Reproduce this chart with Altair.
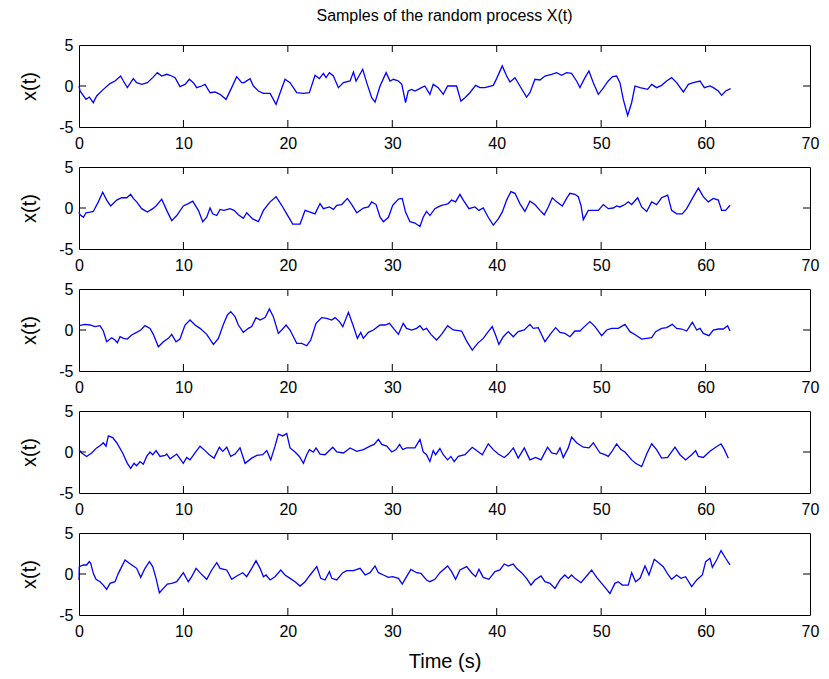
import altair as alt
import pandas as pd

FONT = "Liberation Sans"

title_text = "Samples of the random process X(t)"
x_title = "Time (s)"
y_title = "x(t)"
x_tick_labels = [0, 10, 20, 30, 40, 50, 60, 70]
y_tick_labels = [-5, 0, 5]
x_inner_ticks = [10, 20, 30, 40, 50, 60]
y_inner_ticks = [0]

# (time, value) samples
sample1 = [(0,0),(0.1,-0.6),(0.67,-1.63),(0.99,-1.35),(1.37,-2.04),(1.69,-1.22),(2.33,-0.41),(2.97,0.29),(3.45,0.61),(3.99,1.22),(4.25,0.61),(4.63,-0.2),(5.2,0.9),(5.52,0.41),(6.0,0.2),(6.55,0.41),(7.06,1.02),(7.5,1.63),(7.92,1.22),(8.4,1.43),(8.72,1.31),(9.2,1.02),(9.67,-0.08),(10.15,0.2),(10.57,0.82),(10.95,0.41),(11.27,-0.2),(11.75,0),(12.07,0.2),(12.55,-0.82),(13.03,-0.73),(13.5,-1.02),(14.08,-1.63),(14.62,-0.2),(15.1,1.14),(15.58,0.41),(15.8,0.41),(16.38,0.9),(16.7,0),(17.18,-0.61),(17.66,-0.9),(18.3,-0.9),(18.87,-2.24),(19.32,-0.61),(19.73,0.82),(20.21,0.41),(20.85,-0.82),(21.49,-0.9),(22.06,-0.82),(22.6,1.31),(23.02,0.9),(23.4,1.55),(23.66,1.02),(23.98,1.63),(24.36,1.22),(24.84,-0.2),(25.32,0.41),(25.96,0.61),(26.28,1.71),(26.53,0.61),(27.17,2.04),(27.55,0.41),(28.03,-1.43),(28.35,-1.96),(28.83,0),(29.41,1.63),(29.79,0.61),(30.11,0.82),(30.59,0.61),(30.91,0.2),(31.27,-2.04),(31.53,-0.61),(31.85,-0.41),(32.17,-0.61),(32.8,-0.2),(33.12,0),(33.6,-1.02),(33.92,0.2),(34.4,-0.2),(34.88,-1.02),(35.3,0),(36.16,0),(36.57,-1.84),(36.96,-1.43),(37.43,-0.82),(37.98,0.08),(38.39,-0.2),(38.87,-0.2),(39.67,0.08),(39.99,0.9),(40.53,2.45),(40.95,1.22),(41.27,0.49),(41.75,1.02),(42.22,0),(42.86,-1.35),(43.18,-0.82),(43.66,0.82),(44.14,0.73),(44.62,1.22),(45.26,1.43),(45.74,1.63),(46.21,1.31),(46.69,1.63),(47.17,1.55),(47.65,0.61),(47.97,-0.2),(48.45,1.02),(48.83,1.84),(49.25,0.41),(49.73,-1.02),(50.11,-0.41),(50.68,0.61),(51.1,1.14),(51.48,1.22),(51.8,0.41),(52.12,-1.63),(52.54,-3.59),(52.92,-2.04),(53.24,0),(53.72,-0.2),(54.45,-0.41),(54.84,0.2),(55.31,-0.2),(55.79,0.08),(56.27,0.61),(56.75,1.02),(57.23,0.41),(57.87,-0.73),(58.35,0.2),(58.83,0.41),(59.47,0.61),(59.88,-0.2),(60.42,0),(60.74,-0.2),(61.22,-0.61),(61.54,-1.14),(61.92,-0.61),(62.4,-0.33)]

sample2 = [(0,-0.5),(0.1,-0.83),(0.42,-1.13),(0.67,-0.58),(1.05,-0.5),(1.37,-0.42),(1.85,0.75),(2.27,1.92),(2.65,0.96),(3.03,0.25),(3.61,0.96),(4.09,1.25),(4.57,1.25),(4.95,1.67),(5.2,1.17),(5.52,0.75),(6.0,-0.08),(6.55,-0.5),(7.06,-0.08),(7.38,0.25),(7.92,1.08),(8.4,-0.29),(8.88,-1.54),(9.36,-0.92),(9.99,0.25),(10.47,0.54),(10.89,0.83),(11.43,-0.29),(11.85,-1.67),(12.23,-1.13),(12.55,0),(12.8,-0.71),(13.19,-0.92),(13.51,-0.17),(13.89,-0.29),(14.46,-0.08),(14.85,-0.29),(15.26,-0.83),(15.74,-1.25),(16.06,-0.58),(16.63,-1.33),(17.18,-1.67),(17.66,-0.29),(18.3,0.75),(18.87,1.38),(19.41,0.33),(19.89,-0.71),(20.47,-1.96),(21.17,-1.96),(21.65,-0.29),(22.13,-0.5),(22.6,-0.71),(23.08,0.54),(23.4,-0.08),(23.98,0.13),(24.36,-0.17),(24.68,0.33),(25.16,0.42),(25.7,1.17),(26.12,0.42),(26.6,-0.58),(27.24,0),(27.72,0.13),(28.03,0.75),(28.45,0.42),(28.83,-1.13),(29.15,-1.67),(29.63,-1.13),(30.04,0.33),(30.59,1.08),(30.95,1.17),(31.27,-0.5),(31.69,-1.67),(32.17,-1.83),(32.65,-2.25),(32.96,-1.13),(33.28,-0.42),(33.6,-0.92),(34.08,-0.08),(34.4,0.13),(34.72,0.33),(35.04,0.42),(35.36,0.54),(35.68,0.96),(36.06,0.75),(36.48,1.67),(36.8,0.96),(37.34,-0.08),(37.91,0.13),(38.3,-0.29),(38.71,0),(39.19,-1.13),(39.67,-2.08),(40.15,-1.33),(40.53,-0.5),(40.95,0.96),(41.36,2.0),(41.75,1.79),(42.22,0.54),(42.7,-0.42),(43.18,0.83),(43.66,0.42),(44.14,-0.29),(44.55,-0.83),(44.94,0.13),(45.32,1.25),(45.74,0.75),(46.28,0.25),(46.69,1.17),(47.01,1.79),(47.49,1.67),(47.81,1.38),(48.07,0.33),(48.29,-1.42),(48.77,-0.29),(49.73,-0.29),(50.21,0.42),(50.68,-0.08),(51.16,0),(51.48,0.25),(51.8,0.13),(52.28,0.42),(52.6,0.75),(52.92,0.42),(53.5,1.25),(53.88,0.13),(54.36,-0.42),(54.84,0.75),(55.31,0.42),(55.79,1.25),(56.37,1.58),(56.75,-0.29),(57.23,-0.71),(57.77,-0.71),(58.19,-0.08),(58.83,1.38),(59.31,2.42),(59.78,1.38),(60.26,0.75),(60.74,1.17),(61.22,0.96),(61.54,-0.29),(61.92,-0.29),(62.34,0.33)]

sample3 = [(0,0.53),(0.57,0.69),(1.05,0.61),(1.53,0.41),(2.01,0.53),(2.33,-0.12),(2.65,-1.43),(3.13,-0.94),(3.45,-1.22),(3.67,-1.55),(3.93,-0.82),(4.25,-1.02),(4.63,-1.1),(5.04,-0.61),(5.52,-0.29),(5.91,0),(6.32,0.53),(6.8,0.2),(7.12,-0.53),(7.6,-2.04),(8.08,-1.43),(8.56,-1.02),(8.88,-0.53),(9.29,-1.43),(9.67,-1.1),(10.15,0.61),(10.63,1.22),(11.11,0.61),(11.59,0.2),(12.23,-0.53),(12.87,-1.76),(13.35,-1.02),(13.83,0.69),(14.21,1.84),(14.53,2.24),(14.94,1.63),(15.26,0.61),(15.74,-0.29),(16.22,0.2),(16.54,0.41),(16.95,1.51),(17.34,1.22),(17.82,1.51),(18.23,2.57),(18.61,1.63),(19.09,-0.41),(19.41,0),(19.83,0.61),(20.21,0),(20.85,-1.63),(21.33,-1.63),(21.81,-1.92),(22.19,-1.22),(22.7,0.82),(23.24,1.51),(23.72,1.43),(24.2,1.22),(24.52,1.51),(24.94,1.02),(25.26,0.41),(25.8,2.16),(26.21,0.69),(26.66,-1.02),(26.98,-0.29),(27.23,-1.02),(27.71,-0.29),(28.19,0),(28.83,0.61),(29.31,0.61),(29.73,0.82),(30.11,0.2),(30.59,-0.53),(31.05,0.82),(31.37,0.2),(31.85,0),(32.33,0.2),(32.65,0.53),(32.96,0),(33.28,0.2),(33.7,-0.53),(34.24,-1.22),(34.72,-0.53),(35.3,0.53),(35.84,0),(36.64,-0.12),(37.12,-1.35),(37.66,-2.45),(38.17,-1.63),(38.71,-1.02),(39.19,-0.2),(39.57,0.41),(39.89,-0.61),(40.21,-1.76),(40.63,-0.82),(41.11,-0.2),(41.59,-0.82),(42.06,-0.2),(42.64,0),(43.18,0.69),(43.5,0.2),(43.98,0.29),(44.62,-1.43),(45.19,-0.41),(45.64,0.29),(46.06,-0.29),(46.53,-0.41),(47.01,-0.82),(47.49,-0.12),(47.97,-0.12),(48.29,0.29),(48.93,1.02),(49.41,0.41),(50.05,-0.69),(50.53,0),(51.0,0.2),(51.64,0.2),(52.28,0.69),(52.76,-0.2),(53.3,-0.61),(53.88,-1.1),(54.84,-0.94),(55.22,-0.2),(55.79,0.2),(56.27,0.29),(56.81,0.69),(57.23,0.2),(57.71,0.12),(58.19,-0.12),(58.73,0.94),(59.15,0),(59.47,0.2),(59.78,-0.41),(60.33,-0.69),(60.74,0),(61.22,0.12),(61.7,0.12),(62.11,0.53),(62.34,-0.12)]

sample4 = [(0,0.29),(0.26,-0.12),(0.73,-0.54),(1.21,-0.12),(1.69,0.5),(2.07,0.83),(2.33,1.13),(2.59,0.71),(2.81,1.96),(3.23,1.75),(3.61,1.13),(4.18,-0.12),(4.63,-1.38),(4.95,-2.0),(5.27,-1.38),(5.52,-1.67),(5.84,-1.17),(6.16,-1.5),(6.48,-0.54),(6.8,0),(7.06,-0.33),(7.38,0.17),(7.76,-0.54),(8.24,-0.42),(8.4,-0.25),(8.72,-0.83),(9.36,-0.25),(9.99,-1.38),(10.31,-0.67),(10.63,-0.96),(11.11,-0.12),(11.59,0.71),(12.07,0.17),(12.48,-0.33),(12.93,-0.75),(13.44,0.58),(13.76,0.08),(14.15,0.58),(14.53,-0.54),(14.94,-0.25),(15.42,0.5),(15.9,-1.38),(16.54,-0.75),(17.02,-0.42),(17.59,-0.33),(17.98,0.17),(18.36,-0.96),(18.77,0.71),(19.09,2.17),(19.51,1.96),(19.89,2.25),(20.21,0.5),(20.69,0),(21.1,-0.54),(21.49,-1.38),(21.81,-0.33),(22.06,0.29),(22.44,0),(22.7,0.5),(23.08,-0.25),(23.56,-0.33),(24.3,0.58),(24.68,0),(25.32,-0.12),(25.96,0.5),(26.6,0.08),(27.24,0.29),(27.87,0.71),(28.26,0.92),(28.67,1.54),(28.99,0.92),(29.47,0.71),(29.95,0),(30.36,0.29),(30.7,0.92),(31.0,0.3),(31.37,0.5),(32.17,0.5),(32.65,1.54),(32.96,0),(33.28,-0.33),(33.6,-1.17),(33.92,0.17),(34.15,-0.33),(34.56,0.42),(34.88,-0.33),(35.3,-0.96),(35.61,-0.54),(35.93,-1.17),(36.32,-0.54),(36.96,-0.33),(37.66,0.58),(38.17,0.08),(38.62,-0.33),(39.19,1.0),(39.67,0.29),(40.15,-0.25),(40.72,-0.67),(41.11,-0.25),(41.59,0.5),(42.06,-0.75),(42.64,0.5),(43.18,-0.96),(43.72,-0.67),(44.24,-0.96),(44.87,0.58),(45.26,-0.12),(45.74,-0.25),(46.06,0.5),(46.37,-0.67),(46.85,0.5),(47.17,1.83),(47.65,1.13),(48.29,0.58),(48.83,0.5),(49.25,1.13),(49.89,-0.12),(50.37,-0.33),(50.68,-0.54),(51.0,0),(51.48,1.0),(51.9,0.29),(52.28,0),(52.92,-0.96),(53.3,-1.38),(53.88,-1.79),(54.36,-0.25),(54.84,1.0),(55.31,0.29),(55.79,-0.75),(56.37,-0.67),(57.07,0.58),(57.55,-0.33),(58.09,-0.96),(58.67,-0.33),(59.05,0.17),(59.31,-0.54),(59.78,-0.67),(60.42,0.08),(60.97,0.58),(61.48,1.0),(61.8,0.29),(62.18,-0.75)]

sample5 = [(0,-0.73),(0.03,0.9),(0.42,1.1),(0.73,1.1),(0.99,1.51),(1.12,1.31),(1.37,0.08),(1.63,-0.65),(2.01,-0.94),(2.33,-1.35),(2.65,-1.88),(2.97,-1.14),(3.45,-0.94),(3.77,0.08),(4.09,0.9),(4.41,1.71),(4.82,1.31),(5.2,0.98),(5.52,0.69),(5.91,-0.41),(6.32,0.69),(6.74,1.51),(7.06,0.9),(7.38,-0.53),(7.7,-2.29),(8.08,-1.76),(8.46,-1.22),(8.88,-1.14),(9.36,-0.94),(9.99,0.16),(10.47,-0.94),(10.79,-0.33),(11.21,0.69),(11.65,0.08),(12.23,-0.65),(12.71,0.49),(13.19,1.39),(13.51,0.69),(13.89,0.57),(14.15,0.49),(14.62,-0.65),(15.1,-0.24),(15.68,0.16),(16.06,-0.33),(16.54,0.69),(16.95,1.63),(17.34,0.69),(17.66,-0.33),(17.91,-0.12),(18.3,-0.73),(18.77,-0.33),(19.32,0.49),(19.73,-0.12),(20.21,-0.53),(20.69,-0.94),(21.17,-1.47),(21.65,-0.94),(22.13,-0.12),(22.77,0.9),(23.15,-0.53),(23.56,-0.73),(23.98,0.29),(24.2,-0.53),(24.68,-0.73),(25.26,0.16),(25.64,0.41),(26.28,0.41),(26.92,0.69),(27.4,-0.12),(27.87,0.16),(28.35,0.98),(28.67,0.16),(29.15,-0.12),(29.63,-0.41),(30.04,-0.33),(30.59,-0.53),(30.95,-1.22),(31.27,-0.53),(31.78,0.57),(32.33,0.16),(32.74,0.08),(33.28,-0.73),(33.6,-0.94),(34.08,-0.65),(34.56,0.16),(35.3,0.98),(35.68,0.29),(36.06,-0.65),(36.48,0.49),(37.12,0.9),(37.59,0.16),(37.98,-0.33),(38.3,0.57),(38.71,-0.41),(39.25,-0.65),(39.83,0.29),(40.31,0.49),(40.72,1.22),(41.11,0.98),(41.59,1.22),(41.9,0.69),(42.38,0.16),(42.86,-0.53),(43.28,-1.35),(43.66,-0.73),(44.24,-0.24),(44.62,-0.94),(45.1,-1.14),(45.58,-1.76),(46.06,-0.73),(46.53,-0.12),(46.85,-0.53),(47.17,-0.12),(47.49,-0.53),(48.07,-1.06),(48.61,-0.24),(49.09,0.49),(49.57,-0.41),(50.05,-1.14),(50.37,-1.63),(50.84,-2.37),(51.32,-1.14),(51.64,-0.94),(52.03,-1.35),(52.6,-1.35),(52.92,0.16),(53.3,-0.94),(53.72,-0.53),(54.2,0.98),(54.58,-0.12),(55.09,1.8),(55.47,1.39),(55.95,0.9),(56.43,-0.12),(56.75,-0.65),(57.23,-0.12),(57.64,-0.53),(58.09,-0.33),(58.67,-1.55),(59.15,-0.73),(59.69,-0.12),(60.01,1.51),(60.42,1.92),(60.65,0.82),(61.06,1.71),(61.48,2.86),(61.92,1.92),(62.34,1.1)]

samples = [sample1, sample2, sample3, sample4, sample5]

W, H = 731, 82
TICK = 7
xscale = alt.Scale(domain=[0, 70], nice=False, zero=False)
yscale = alt.Scale(domain=[-5, 5], nice=False, zero=False)

y_axis = alt.Axis(
    values=y_tick_labels, ticks=False, domain=False, grid=False,
    labelPadding=6, labelFontSize=16, labelFont=FONT, labelColor="black",
    labelExpr="'' + datum.value", labelFlush=False, labelOverlap=False,
    titleFontSize=20, titleFont=FONT, titleFontWeight="normal",
    titleColor="black", titlePadding=19)


def make_x_axis(last):
    kw = dict(values=x_tick_labels, ticks=False, domain=False, grid=False,
              labelPadding=8, labelFontSize=16, labelFont=FONT, labelColor="black",
              labelFlush=False, labelOverlap=False)
    if last:
        kw.update(titleFontSize=20, titleFont=FONT, titleFontWeight="normal",
                  titleColor="black", titlePadding=12)
    return alt.Axis(**kw)


def panel(pairs, last):
    df = pd.DataFrame(pairs, columns=["t", "x"])
    x_axis = make_x_axis(last)
    xt_title = x_title if last else None

    def xenc():
        return alt.X("t:Q", scale=xscale, axis=x_axis, title=xt_title)

    def yenc():
        return alt.Y("x:Q", scale=yscale, axis=y_axis, title=y_title)

    line = alt.Chart(df).mark_line(color="#0000ff", strokeWidth=1.3).encode(
        x=xenc(), y=yenc())
    xt = pd.DataFrame({"t": x_inner_ticks})
    yt = pd.DataFrame({"x": y_inner_ticks})
    top = alt.Chart(xt).mark_rule(color="black", strokeWidth=1).encode(
        x=xenc(), y=alt.value(0), y2=alt.value(TICK))
    bottom = alt.Chart(xt).mark_rule(color="black", strokeWidth=1).encode(
        x=xenc(), y=alt.value(H - TICK), y2=alt.value(H))
    left = alt.Chart(yt).mark_rule(color="black", strokeWidth=1).encode(
        y=yenc(), x=alt.value(0), x2=alt.value(TICK))
    right = alt.Chart(yt).mark_rule(color="black", strokeWidth=1).encode(
        y=yenc(), x=alt.value(W - TICK), x2=alt.value(W))
    return alt.layer(line, top, bottom, left, right).properties(width=W, height=H)


panels = [panel(s, i == len(samples) - 1) for i, s in enumerate(samples)]

chart = alt.vconcat(*panels, spacing=40, bounds="flush").properties(
    title=alt.TitleParams(title_text, fontSize=16, font=FONT, fontWeight="normal",
                          color="black", anchor="middle", frame="group", offset=13),
    padding={"left": 19, "top": 7, "right": 5, "bottom": 5},
).configure(background="white").configure_view(stroke="black", strokeWidth=1)

chart.save("out.html", embed_options={"renderer": "svg", "actions": False})
